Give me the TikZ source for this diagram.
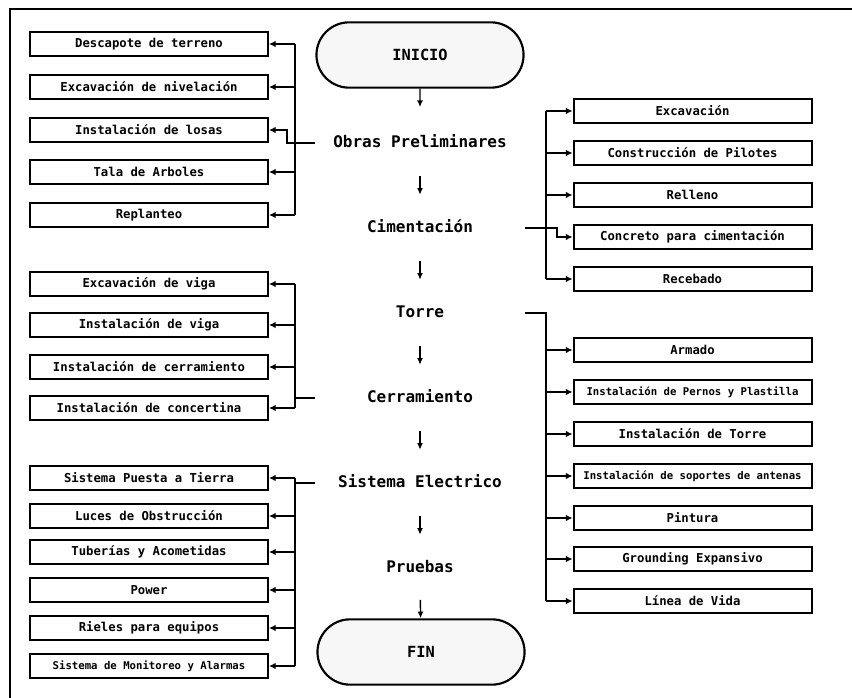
\documentclass[tikz,border=0pt]{standalone}
\usepackage{fontspec}
\setmainfont{DejaVu Sans Mono}
\usetikzlibrary{arrows.meta,shapes.misc}
\begin{document}
\begin{tikzpicture}[x=0.75pt, y=-0.75pt]
\tikzstyle{term} = [rounded rectangle, draw, line width=1.6pt, fill=gray!6, minimum width=162pt, minimum height=49pt, font=\bfseries\fontsize{11.5}{13}\selectfont]
\tikzstyle{stage} = [inner sep=0pt, text height=9pt, text depth=2.5pt, font=\bfseries\fontsize{12}{14}\selectfont]
\tikzstyle{task} = [rectangle, draw, line width=1.5pt, minimum width=178.5pt, minimum height=18.2pt, inner sep=1pt, font=\bfseries\fontsize{9.2}{10}\selectfont]
\tikzstyle{longtxt} = [font=\bfseries\fontsize{8}{9}\selectfont]
\tikzstyle{link} = [line width=1.3pt]
\tikzstyle{arr} = [line width=1.3pt, -{Latex[length=5pt,width=5pt]}]
\tikzstyle{down} = [line width=1.1pt, -{Latex[length=5pt,width=4.5pt]}, shorten <=19pt, shorten >=19pt]
\useasboundingbox (0,0) rectangle (852,698);
\draw[line width=1.2pt] (10,698) -- (10,9) -- (852,9);

\node[term] (inicio) at (420,55) {INICIO};
\node[stage] (obras) at (420,143) {Obras Preliminares};
\node[stage] (ciment) at (420,228) {Cimentación};
\node[stage] (torre) at (420,313) {Torre};
\node[stage] (cerram) at (420,398) {Cerramiento};
\node[stage] (sistema) at (420,483) {Sistema Electrico};
\node[stage] (pruebas) at (420,568) {Pruebas};
\node[term] (fin) at (421,652) {FIN};

\draw[down, shorten <=0pt, shorten >=21pt] (inicio) -- (obras);
\foreach \from/\to in {obras/ciment, ciment/torre, torre/cerram, cerram/sistema, sistema/pruebas}
\draw[down] (\from) -- (\to);
\draw[down, shorten <=18pt, shorten >=0pt] (pruebas) -- (fin);

\foreach \n/\y/\t in {desc/44/Descapote de terreno, excniv/87/Excavación de nivelación, losas/130/Instalación de losas, tala/172/Tala de Arboles, replan/215/Replanteo, excviga/284/Excavación de viga, instviga/325/Instalación de viga, instcerr/367/Instalación de cerramiento, concert/408/Instalación de concertina, puesta/478/Sistema Puesta a Tierra, luces/516/Luces de Obstrucción, tuber/552/Tuberías y Acometidas, power/590/Power, rieles/628/Rieles para equipos}
\node[task] (\n) at (149,\y) {\t};
\node[task, longtxt] (monit) at (149,666) {Sistema de Monitoreo y Alarmas};

\foreach \n/\y/\t in {exc/111/Excavación, pilotes/153/Construcción de Pilotes, relleno/195/Relleno, concr/237/Concreto para cimentación, receb/279/Recebado, armado/350/Armado, insttorre/434/Instalación de Torre, pintura/518/Pintura, grounding/559/Grounding Expansivo, linea/601/Línea de Vida}
\node[task] (\n) at (692.5,\y) {\t};
\node[task, longtxt] (pernos) at (692.5,392) {Instalación de Pernos y Plastilla};
\node[task, longtxt] (soportes) at (692.5,476) {Instalación de soportes de antenas};

\coordinate (lbus) at (295,0);
\coordinate (ljog) at (287,0);
\coordinate (rbus) at (546,0);
\coordinate (rjog) at (557,0);

\draw[link] (desc.east -| lbus) -- (replan.east -| lbus);
\foreach \n in {desc, excniv, tala, replan}
\draw[arr] (\n.east -| lbus) -- (\n.east);
\draw[arr] (obras.west -| inicio.west) -| (losas.east -| ljog) -- (losas.east);

\draw[link] (exc.west -| rbus) -- (receb.west -| rbus);
\foreach \n in {exc, pilotes, relleno, receb}
\draw[arr] (\n.west -| rbus) -- (\n.west);
\draw[arr] (ciment.east -| inicio.east) -| (concr.west -| rjog) -- (concr.west);

\draw[link] (torre.east -| inicio.east) -| (linea.west -| rbus);
\foreach \n in {armado, pernos, insttorre, soportes, pintura, grounding, linea}
\draw[arr] (\n.west -| rbus) -- (\n.west);

\draw[link] (cerram.west -| inicio.west) -- (cerram.west -| lbus);
\draw[link] (excviga.east -| lbus) -- (concert.east -| lbus);
\foreach \n in {excviga, instviga, instcerr, concert}
\draw[arr] (\n.east -| lbus) -- (\n.east);

\draw[link] (sistema.west -| inicio.west) -- (sistema.west -| lbus);
\draw[link] (puesta.east -| lbus) -- (monit.east -| lbus);
\foreach \n in {puesta, luces, tuber, power, rieles, monit}
\draw[arr] (\n.east -| lbus) -- (\n.east);
\end{tikzpicture}
\end{document}
